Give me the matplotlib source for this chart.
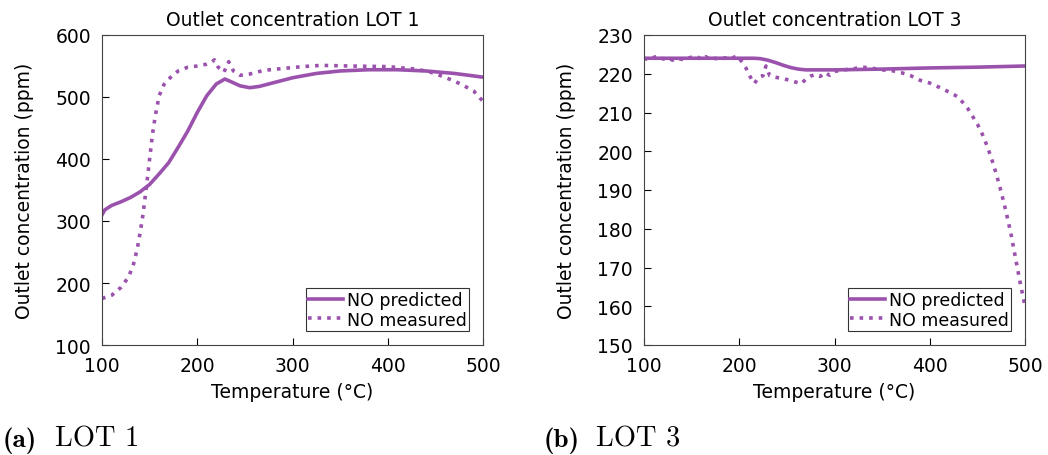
import numpy as np
import matplotlib
matplotlib.use('Agg')
import matplotlib.pyplot as plt

plt.rcParams['font.family'] = ['DejaVu Sans']

PURPLE = '#9a52ad'

# LOT 1
t1_pred = [100, 103, 110, 120, 130, 140, 150, 160, 170, 180, 190, 200, 210, 220, 229, 235, 245, 255, 265, 280,
           300, 325, 350, 380, 410, 440, 470, 500]
c1_pred = [310, 318, 325, 331, 338, 347, 359, 376, 394, 419, 445, 475, 502, 521, 529, 525, 518, 515, 517, 523,
           531, 538, 542, 544, 544, 542, 538, 532]
t1_meas = [100, 110, 120, 128, 133, 137, 140, 143, 145, 147, 150, 153, 156, 160, 165, 170, 180, 190, 200, 210,
           215, 218, 222, 228, 233, 238, 245, 255, 270, 290, 310, 330, 360, 400, 430, 445, 460, 475, 490, 500]
c1_meas = [175, 180, 193, 210, 230, 255, 281, 310, 335, 360, 400, 440, 470, 502, 520, 529, 542, 548, 550, 553,
           556, 560, 548, 540, 557, 542, 535, 537, 543, 546, 549, 551, 550, 549, 545, 540, 532, 522, 510, 493]

# LOT 3
t3_pred = [100, 150, 200, 215, 222, 230, 238, 246, 254, 262, 270, 280, 300, 350, 400, 450, 500]
c3_pred = [224.0, 224.0, 224.0, 224.0, 223.9, 223.5, 222.9, 222.2, 221.6, 221.2, 221.0, 221.0, 221.0, 221.2,
           221.5, 221.7, 222.0]
t3_meas = [100, 105, 110, 115, 120, 125, 130, 135, 140, 145, 150, 155, 160, 165, 170, 175, 180, 185, 190, 195,
           198, 203, 207, 210, 213, 216, 220, 225, 228, 232, 240, 250, 260, 265, 270, 275, 280, 285, 290, 295,
           300, 310, 320, 330, 340, 350, 360, 370, 380, 390, 400, 410, 420, 430, 435, 440, 445, 450, 455, 460,
           465, 470, 475, 480, 485, 490, 495, 500]
c3_meas = [224.0, 223.6, 224.2, 224.6, 223.8, 224.1, 223.5, 224.0, 223.7, 223.9, 224.3, 224.6, 223.7, 224.4,
           223.6, 224.0, 223.6, 224.1, 223.9, 224.3, 224.6, 223.0, 221.5, 220.0, 218.5, 217.5, 219.0, 219.5,
           222.0, 219.5, 219.0, 218.5, 217.8, 217.4, 218.6, 219.4, 219.8, 219.3, 220.3, 219.6, 220.6, 221.0,
           221.3, 221.7, 221.4, 221.0, 220.8, 220.3, 219.5, 218.3, 217.6, 216.5, 215.3, 214.0, 212.5, 211.0,
           209.0, 207.0, 204.5, 201.5, 198.0, 194.0, 189.5, 184.5, 179.0, 172.5, 166.0, 160.0]

panels = [
    (t1_pred, c1_pred, t1_meas, c1_meas, 'Outlet concentration LOT 1', (100, 600), np.arange(100, 601, 100), '(a)', 'LOT 1'),
    (t3_pred, c3_pred, t3_meas, c3_meas, 'Outlet concentration LOT 3', (150, 230), np.arange(150, 231, 10), '(b)', 'LOT 3'),
]

fig = plt.figure(figsize=(10.48, 4.56), dpi=100)
ax_lefts = [102 / 1048, 644 / 1048]
cap_lefts = [3 / 1048, 544 / 1048]

for (tp, cp, tm, cm, title, ylim, yticks, tag, cap), left, cl in zip(panels, ax_lefts, cap_lefts):
    ax = fig.add_axes([left, 1 - 346 / 456, 381 / 1048, 310 / 456])
    ax.plot(tp, cp, '-', color=PURPLE, lw=2.6, label='NO predicted')
    ax.plot(tm, cm, ':', color=PURPLE, lw=2.6, label='NO measured', dash_capstyle='butt')
    ax.set_xlim(100, 500)
    ax.set_ylim(*ylim)
    ax.set_xticks(np.arange(100, 501, 100))
    ax.set_yticks(yticks)
    ax.tick_params(direction='in', labelsize=13.5, length=5, width=0.8, top=False, right=False)
    ax.tick_params(axis='x', pad=8)
    ax.tick_params(axis='y', pad=8)
    for s in ax.spines.values():
        s.set_color('#444444')
        s.set_linewidth(0.8)
    ax.set_title(title, fontsize=13.5, pad=7)
    ax.set_xlabel('Temperature (°C)', fontsize=13.5, labelpad=5)
    ax.set_ylabel('Outlet concentration (ppm)', fontsize=13.5, labelpad=15)
    leg = ax.legend(loc='lower right', fontsize=12.5, frameon=True, fancybox=False,
                    borderpad=0.15, handlelength=2.0, handletextpad=0.2, labelspacing=0.1,
                    borderaxespad=0.8)
    leg.get_frame().set_edgecolor('black')
    leg.get_frame().set_linewidth(0.8)
    fig.text(cl, 1 - 447 / 456, tag, family='cmb10', fontsize=19.5)
    fig.text(cl + 52 / 1048, 1 - 447 / 456, cap, family='cmr10', fontsize=20.5)

fig.savefig('out.png', dpi=100)
